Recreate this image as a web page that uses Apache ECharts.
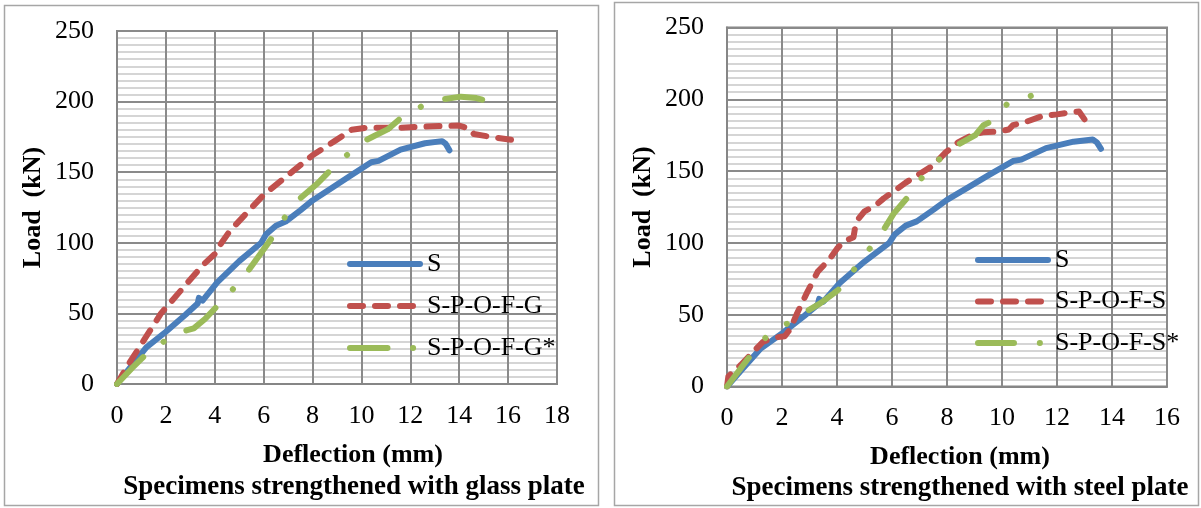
<!DOCTYPE html>
<html>
<head>
<meta charset="utf-8">
<script src="https://cdn.jsdelivr.net/npm/echarts@6/dist/echarts.min.js"></script>
<style>
  html, body { margin: 0; padding: 0; background: #fff; }
  #main { width: 1201px; height: 508px; }
</style>
</head>
<body>
<div id="main"></div>
<script>
// deflection (mm), load (kN)
const seriesS = [[0,0],[0.6,13],[1.2,26],[2,37],[2.8,49],[3.3,57],[3.35,61],[3.5,59],[4.1,72],[5,87],[5.9,100],[6.1,106],[6.5,112],[6.9,115],[7.5,123],[8,130],[8.8,139],[9.5,147],[10.4,157],[10.7,158],[11.6,166],[12.6,170.5],[13.3,172],[13.45,170],[13.6,165.5]]
const seriesG = [[0,0],[0.4,12],[1.1,31],[1.8,50],[2.5,64],[3,74],[3.5,84],[4,92],[4.2,98],[4.6,108],[5.3,121],[6,134],[7,148],[8,162],[8.9,172],[9.6,180],[10.2,181.5],[11.6,181.5],[12.9,182.5],[14,183],[14.4,181],[14.6,177],[15.3,175],[16.5,172]]
const seriesGStar = [[0,0],[0.6,11],[1.23,21.7],[2,31],[2.8,37.8],[3.14,39.4],[3.6,46],[4.1,55.2],[4.78,67.8],[5.39,80.7],[5.9,93],[6.42,105.5],[6.9,119],[7.52,131.8],[8.2,142],[8.82,153],[9.54,164.2],[10.18,172.7],[10.52,175.6],[11.07,180.3],[11.68,189.3],[12.5,197],[13.39,201.7],[14.07,203.5],[14.7,202.5],[15.23,200]]
const seriesSteel = [[0,0],[0.05,7],[0.5,15],[1.3,31],[1.7,34],[2.1,35],[2.3,40],[2.55,51],[2.9,65],[3.3,80],[3.7,88],[4,96],[4.25,101],[4.6,104],[4.67,112],[4.75,116],[5,122],[5.4,126],[5.7,131],[6,135],[6.5,142],[7,148],[7.5,154],[7.95,163],[8.4,170],[8.9,175],[9.3,177],[9.9,177.5],[10.25,179],[10.4,182],[10.9,184.5],[11.5,188.5],[12,189.5],[12.55,191],[12.8,191.5],[13,186]]
const seriesSteelStar = [[0,0],[0.91,23],[1.49,35.9],[2.24,44.4],[2.97,53.2],[3.39,57.9],[3.88,64.8],[4.18,69.4],[4.67,82.9],[5.19,96],[5.7,109.3],[6.06,120.4],[6.6,132.4],[7.09,145.4],[7.67,157.4],[8.36,168],[9.03,175],[9.33,182],[9.58,184.3],[10.18,196.6],[11.05,202.4]]

const namesGlass = ['S', 'S-P-O-F-G', 'S-P-O-F-G*']
const namesSteel = ['S', 'S-P-O-F-S', 'S-P-O-F-S*']
const xMaxGlass = 18
const xMaxSteel = 16
const yMax = 250

const serif = '"Times New Roman", "Liberation Serif", serif'
const blue = '#4A7EBB'
const red = '#C0504D'
const green = '#9BBB59'

function xAxisOf(gridIndex, max, padLeft) {
  return {
    type: 'value', gridIndex, min: 0, max, interval: 2,
    name: 'Deflection (mm)', nameLocation: 'middle', nameGap: 58,
    nameTextStyle: { fontFamily: serif, fontSize: 26, fontWeight: 'bold', color: '#000', padding: [0, 0, 0, padLeft] },
    axisLine: { lineStyle: { color: '#868686', width: 2 } },
    axisTick: { show: false },
    axisLabel: { margin: 19, fontFamily: serif, fontSize: 26, color: '#000' },
    splitLine: { show: true, lineStyle: { color: '#8a8a8a', width: 2 } }
  }
}

function yAxisOf(gridIndex) {
  return {
    type: 'value', gridIndex, min: 0, max: yMax, interval: 50,
    name: 'Load  (kN)', nameLocation: 'middle', nameGap: 71, nameRotate: 90,
    nameTextStyle: { fontFamily: serif, fontSize: 26, fontWeight: 'bold', color: '#000' },
    axisLine: { show: true, lineStyle: { color: '#868686', width: 2 } },
    axisTick: { show: false },
    axisLabel: { margin: 23, fontFamily: serif, fontSize: 26, color: '#000' },
    splitLine: { show: true, lineStyle: { color: '#8a8a8a', width: 2 } },
    minorTick: { show: false, splitNumber: 10 },
    minorSplitLine: { show: true, lineStyle: { color: '#c8c8c8', width: 1.5 } }
  }
}

function lineOf(name, data, idx, color, type) {
  return {
    name, type: 'line', data, xAxisIndex: idx, yAxisIndex: idx,
    symbol: 'none', showSymbol: false, smooth: false, silent: true,
    lineStyle: { color, width: 6, type, cap: 'round', join: 'round' },
    itemStyle: { color },
    emphasis: { disabled: true }
  }
}

function legendOf(data, left, top, gap) {
  return {
    data, left, top, orient: 'vertical',
    itemWidth: 70, itemHeight: 26, itemGap: gap,
    selectedMode: false,
    lineStyle: { width: 6 },
    itemStyle: { opacity: 0 },
    textStyle: { fontFamily: serif, fontSize: 26, color: '#000', padding: [0, 0, 0, 2] }
  }
}

const chart = echarts.init(document.getElementById('main'), null, { renderer: 'canvas' })

chart.setOption({
  animation: false,
  backgroundColor: '#fff',
  grid: [
    { left: 117, top: 31, width: 440, height: 353, show: true, borderColor: '#868686', borderWidth: 2 },
    { left: 727, top: 27.5, width: 440, height: 359, show: true, borderColor: '#868686', borderWidth: 2 }
  ],
  xAxis: [xAxisOf(0, xMaxGlass, 32), xAxisOf(1, xMaxSteel, 26)],
  yAxis: [yAxisOf(0), yAxisOf(1)],
  legend: [
    legendOf(namesGlass, 342, 246, 16),
    legendOf(namesSteel, 970, 242, 15.5)
  ],
  series: [
    lineOf(namesGlass[0], seriesS, 0, blue, 'solid'),
    lineOf(namesGlass[1], seriesG, 0, red, [13, 12]),
    lineOf(namesGlass[2], seriesGStar, 0, green, [37.5, 25.5, 0.1, 25.5]),
    lineOf(namesSteel[0], seriesS, 1, blue, 'solid'),
    lineOf(namesSteel[1], seriesSteel, 1, red, [13, 12]),
    lineOf(namesSteel[2], seriesSteelStar, 1, green, [36, 25.8, 0.1, 25.8, 0.1, 25.8])
  ],
  graphic: [
    { type: 'rect', shape: { x: 4.5, y: 5.5, width: 594, height: 500 }, style: { fill: 'none', stroke: '#a6a6a6', lineWidth: 1.5 }, silent: true },
    { type: 'rect', shape: { x: 614.5, y: 2.5, width: 584, height: 503 }, style: { fill: 'none', stroke: '#a6a6a6', lineWidth: 1.5 }, silent: true },
    { type: 'text', x: 354, y: 487, silent: true,
      style: { text: 'Specimens strengthened with glass plate', align: 'center', verticalAlign: 'middle', fontFamily: serif, fontSize: 27, fontWeight: 'bold', fill: '#000' } },
    { type: 'text', x: 960, y: 488, silent: true,
      style: { text: 'Specimens strengthened with steel plate', align: 'center', verticalAlign: 'middle', fontFamily: serif, fontSize: 27, fontWeight: 'bold', fill: '#000' } }
  ]
})
</script>
</body>
</html>
